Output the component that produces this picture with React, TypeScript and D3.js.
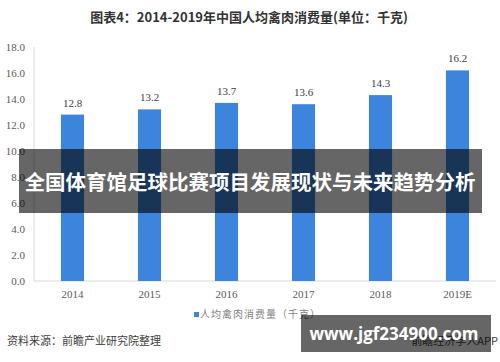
import { useEffect, useRef } from 'react';
import * as d3 from 'd3';

const years = ['2014', '2015', '2016', '2017', '2018', '2019E'];
const values = [12.8, 13.2, 13.7, 13.6, 14.3, 16.2];
const yTicks = [0, 2, 4, 6, 8, 10, 12, 14, 16, 18];

const title = '图表4：2014-2019年中国人均禽肉消费量(单位：千克)';
const legendLabel = '人均禽肉消费量（千克）';
const sourceText = '资料来源：前瞻产业研究院整理';
const appText = '前瞻经济学人APP';
const bannerText = '全国体育馆足球比赛项目发展现状与未来趋势分析';
const urlText = 'www.jgf234900.com';

const W = 500;
const H = 362;
const cjk = '"Noto Sans CJK SC", "Noto Sans", sans-serif';
const serif = '"Liberation Serif", "DejaVu Serif", serif';

const App = () => {
  const svgRef = useRef<SVGSVGElement>(null);

  useEffect(() => {
    const svg = d3.select(svgRef.current);
    svg.selectAll('*').remove();

    const margin = { top: 47, right: 4, bottom: 81, left: 34 };
    const x = d3.scaleBand()
      .domain(years)
      .range([margin.left, W - margin.right])
      .paddingInner(0.7)
      .paddingOuter(0.35);
    const y = d3.scaleLinear().domain([0, 18]).range([H - margin.bottom, margin.top]);

    svg.append('rect').attr('width', W).attr('height', H).attr('fill', '#fff');

    // title
    svg.append('text')
      .attr('x', 249).attr('y', 22)
      .attr('text-anchor', 'middle')
      .style('font-family', cjk).style('font-size', '13px').style('font-weight', 'bold')
      .style('fill', '#333')
      .text(title);

    // axes lines
    svg.append('line')
      .attr('x1', margin.left).attr('x2', margin.left)
      .attr('y1', y(18)).attr('y2', y(0))
      .attr('stroke', '#d9d9d9');
    svg.append('line')
      .attr('x1', margin.left).attr('x2', W - margin.right)
      .attr('y1', y(0)).attr('y2', y(0))
      .attr('stroke', '#d9d9d9');

    // y tick labels
    svg.append('g').selectAll('text')
      .data(yTicks).enter().append('text')
      .attr('x', 25).attr('y', d => y(d) + 4)
      .attr('text-anchor', 'end')
      .style('font-family', serif).style('font-size', '11px').style('fill', '#595959')
      .text(d => d.toFixed(1));

    // bars
    svg.append('g').selectAll('rect')
      .data(values).enter().append('rect')
      .attr('x', (d, i) => x(years[i]) as number)
      .attr('y', d => y(d))
      .attr('width', x.bandwidth())
      .attr('height', d => y(0) - y(d))
      .attr('fill', '#3c84dc');

    // value labels
    svg.append('g').selectAll('text')
      .data(values).enter().append('text')
      .attr('x', (d, i) => (x(years[i]) as number) + x.bandwidth() / 2)
      .attr('y', d => y(d) - 8)
      .attr('text-anchor', 'middle')
      .style('font-family', serif).style('font-size', '11px').style('fill', '#404040')
      .text(d => d.toFixed(1));

    // x labels
    svg.append('g').selectAll('text')
      .data(years).enter().append('text')
      .attr('x', d => (x(d) as number) + x.bandwidth() / 2)
      .attr('y', y(0) + 17)
      .attr('text-anchor', 'middle')
      .style('font-family', serif).style('font-size', '11px').style('fill', '#595959')
      .text(d => d);

    // legend
    svg.append('rect')
      .attr('x', 194).attr('y', 312).attr('width', 5).attr('height', 5)
      .attr('fill', '#3c84dc');
    svg.append('text')
      .attr('x', 200).attr('y', 318)
      .style('font-family', cjk).style('font-size', '10px').style('fill', '#7f7f7f')
      .style('letter-spacing', '1px')
      .text(legendLabel);

    // source
    svg.append('text')
      .attr('x', 7).attr('y', 345)
      .style('font-family', cjk).style('font-size', '11px').style('fill', '#404040')
      .text(sourceText);
    svg.append('text')
      .attr('x', 498).attr('y', 345)
      .attr('text-anchor', 'end')
      .style('font-family', cjk).style('font-size', '11px').style('fill', '#404040')
      .text(appText);

    // overlay banner
    svg.append('rect')
      .attr('x', 19).attr('y', 149).attr('width', 463).attr('height', 64)
      .attr('fill', 'rgba(0,0,0,0.6)');
    svg.append('text')
      .attr('x', 250).attr('y', 190)
      .attr('text-anchor', 'middle')
      .style('font-family', cjk).style('font-size', '20.5px').style('font-weight', 'bold')
      .style('fill', '#fff')
      .text(bannerText);

    // url box
    svg.append('rect')
      .attr('x', 301).attr('y', 315).attr('width', 190).attr('height', 37)
      .attr('fill', 'rgba(0,0,0,0.6)');
    svg.append('text')
      .attr('x', 394).attr('y', 340)
      .attr('text-anchor', 'middle')
      .style('font-family', '"Open Sans", "DejaVu Sans", sans-serif')
      .style('font-size', '17px').style('font-weight', 'bold')
      .style('fill', '#fff')
      .text(urlText);
  }, []);

  return (
    <svg ref={svgRef} width={W} height={H}
      style={{ position: 'absolute', left: 0, top: 0 }} />
  );
};

export default App;
